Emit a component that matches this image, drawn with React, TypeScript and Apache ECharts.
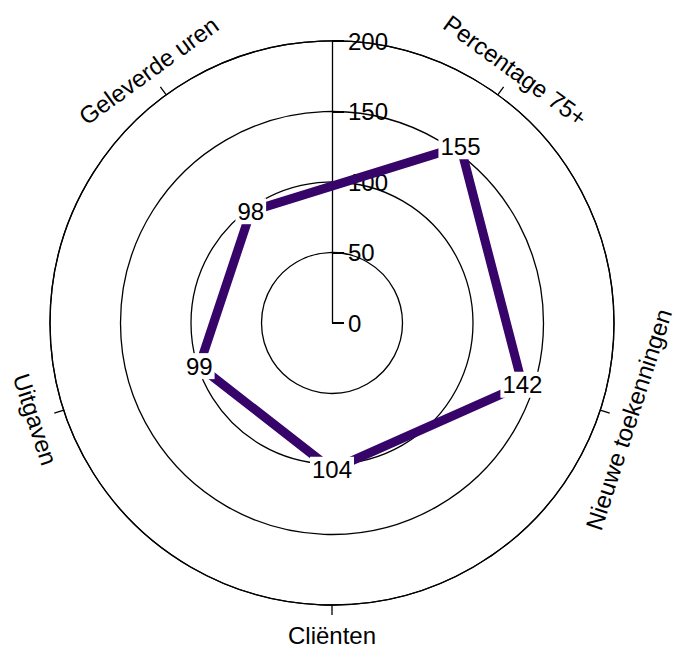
import React, { useEffect, useRef } from "react";
import * as echarts from "echarts";

const categories = ["Cliënten", "Uitgaven", "Geleverde uren", "Percentage 75+", "Nieuwe toekenningen"];
const values = [104, 99, 98, 155, 142];
const radiusTicks = [0, 50, 100, 150, 200];

const FONT = "Liberation Sans, Arial, sans-serif";
const CX = 332;
const CY = 323;
const R = 282;
const START = 270;
const LABEL_R = 312;

export default function App() {
  const ref = useRef<HTMLDivElement>(null);
  useEffect(() => {
    if (!ref.current) return;
    const chart = echarts.init(ref.current, undefined, { renderer: "svg" });
    const n = categories.length;
    const data = categories.map((c, i) => [values[i], i]);
    data.push([values[0], n]);

    const labelEls = categories.map((c, i) => {
      const theta = START - (360 / n) * i; // clockwise
      const t = ((theta % 360) + 360) % 360;
      const rad = (t * Math.PI) / 180;
      const x = CX + LABEL_R * Math.cos(rad);
      const y = CY - LABEL_R * Math.sin(rad);
      let rot = t > 0 && t < 180 ? t - 90 : t + 90;
      if (rot > 180) rot -= 360;
      return {
        type: "text",
        x,
        y,
        rotation: (rot * Math.PI) / 180,
        style: {
          text: c,
          fontSize: 24,
          fontFamily: FONT,
          fill: "#000",
          align: "center",
          verticalAlign: "middle",
        },
      };
    });

    chart.setOption({
      animation: false,
      backgroundColor: "#ffffff",
      textStyle: { fontFamily: FONT },
      polar: [
        { center: [CX, CY], radius: R },
        { center: [CX, CY], radius: R },
      ],
      angleAxis: [
        {
          polarIndex: 0,
          type: "value",
          min: 0,
          max: n,
          interval: 1,
          startAngle: START,
          clockwise: true,
          axisLine: { show: true, lineStyle: { color: "#000", width: 1.3 } },
          axisTick: { show: true, length: 10, lineStyle: { color: "#000", width: 1.3 } },
          axisLabel: { show: false },
          splitLine: { show: false },
        },
        {
          polarIndex: 1,
          type: "value",
          min: 0,
          max: 360,
          startAngle: 90,
          axisLine: { show: false },
          axisTick: { show: false },
          axisLabel: { show: false },
          splitLine: { show: false },
        },
      ],
      radiusAxis: [
        {
          polarIndex: 0,
          type: "value",
          min: 0,
          max: 200,
          interval: 50,
          axisLine: { show: false },
          axisTick: { show: false },
          axisLabel: { show: false },
          splitLine: { show: true, lineStyle: { color: "#000", width: 1.3 } },
        },
        {
          polarIndex: 1,
          type: "value",
          min: 0,
          max: 200,
          interval: 50,
          axisLine: { show: true, lineStyle: { color: "#000", width: 1.3 } },
          axisTick: { show: true, length: -12, lineStyle: { color: "#000", width: 2 } },
          axisLabel: {
            show: true,
            fontSize: 24,
            color: "#000",
            fontFamily: FONT,
            margin: -16,
            align: "left",
            verticalAlign: "middle",
            formatter: (v: number) => (radiusTicks.includes(v) ? String(v) : ""),
          },
          splitLine: { show: false },
        },
      ],
      graphic: labelEls,
      series: [
        {
          type: "line",
          coordinateSystem: "polar",
          polarIndex: 0,
          data,
          clip: false,
          symbol: "circle",
          symbolSize: 1,
          itemStyle: { color: "rgba(0,0,0,0)" },
          lineStyle: { color: "#37046a", width: 9 },
          label: {
            show: true,
            position: "inside",
            fontSize: 24,
            color: "#000",
            fontFamily: FONT,
            backgroundColor: "#fff",
            padding: [1, 2],
            formatter: (p: any) => (p.dataIndex === data.length - 1 ? "" : String(p.value[0])),
          },
          z: 5,
        },
      ],
    });
    return () => chart.dispose();
  }, []);
  return (
    <div
      ref={ref}
      style={{ position: "fixed", left: 0, top: 0, width: 677, height: 650 }}
    />
  );
}
